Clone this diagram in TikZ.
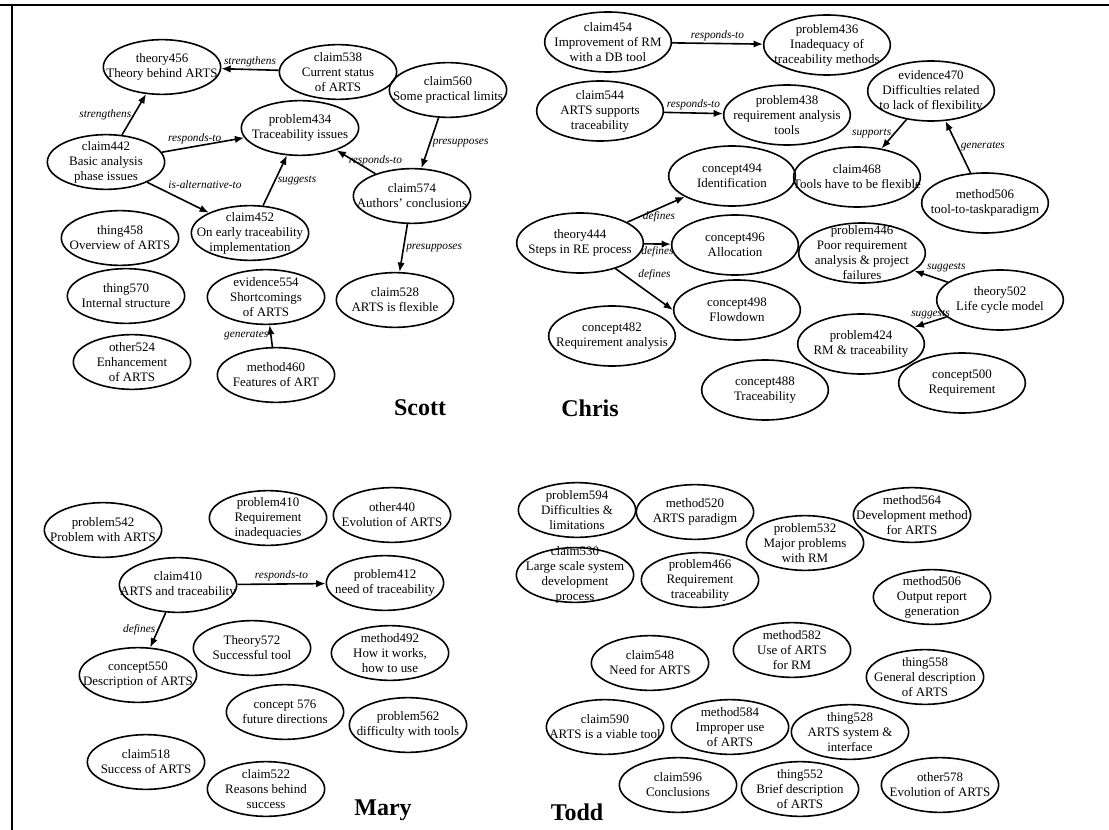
\documentclass[tikz,border=0pt]{standalone}
\usepackage{fontspec}
\setmainfont{Liberation Serif}
\usetikzlibrary{shapes.geometric,arrows.meta}

\begin{document}
\begin{tikzpicture}[x=0.75pt, y=-0.75pt,
	idea/.style={draw, ellipse, line width=1.2pt, minimum width=88pt, minimum height=41pt, inner sep=0pt},
	big idea/.style={idea, minimum width=95pt, minimum height=45pt},
	txt/.style={align=center, inner sep=0pt, font=\fontsize{9.7}{11.25}\selectfont},
	link/.style={-{Latex[length=7pt, width=5.5pt]}, line width=1.2pt},
	lbl/.style={font=\fontsize{8.5}{9}\selectfont\itshape, inner sep=1.5pt},
	who/.style={font=\fontsize{18}{20}\selectfont\bfseries, inner sep=0pt},
	frame/.style={line width=1.5pt}]
	\useasboundingbox (0,0) rectangle (1109,830);
	\draw [frame] (0,5) -- (1109,5) (12,5) -- (12,830);

	% Scott
	\node [idea, label={[txt]center:{theory456\\Theory behind ARTS}}] (t456) at (162,67) {};
	\node [idea, label={[txt]center:{claim538\\Current status\\of ARTS}}] (c538) at (338,72) {};
	\node [idea, label={[txt]center:{problem434\\Traceability issues}}] (p434) at (300,128) {};
	\node [idea, label={[txt]center:{claim560\\Some practical limits}}] (c560) at (448,90) {};
	\node [idea, label={[txt]center:{claim442\\Basic analysis\\phase issues}}] (c442) at (106,162) {};
	\node [idea, label={[txt]center:{claim574\\Authors' conclusions}}] (c574) at (412,196) {};
	\node [idea, label={[txt]center:{claim452\\On early traceability\\implementation}}] (c452) at (250,233) {};
	\node [idea, label={[txt]center:{thing458\\Overview of ARTS}}] (t458) at (120,238) {};
	\node [idea, label={[txt]center:{thing570\\Internal structure}}] (t570) at (126,296) {};
	\node [idea, label={[txt]center:{evidence554\\Shortcomings\\of ARTS}}] (e554) at (266,297) {};
	\node [idea, label={[txt]center:{claim528\\ARTS is flexible}}] (c528) at (395,300) {};
	\node [idea, label={[txt]center:{other524\\Enhancement\\of ARTS}}] (o524) at (132,362) {};
	\node [idea, label={[txt]center:{method460\\Features of ART}}] (m460) at (276,375) {};
	\node [who] (scott) at (420,408) {Scott};

	\draw [link] (c538) -- node [lbl, above] {strengthens} (t456);
	\draw [link] (c442) -- node [lbl, left] {strengthens} (t456);
	\draw [link] (c442) -- node [lbl, above, pos=.4] {responds-to} (p434);
	\draw [link] (c442) -- node [lbl, above right, pos=.3] {is-alternative-to} (c452);
	\draw [link] (c452) -- node [lbl, right] {suggests} (p434);
	\draw [link] (c574) -- node [lbl, above=4pt, pos=0] {responds-to} (p434);
	\draw [link] (c560) -- node [lbl, right] {presupposes} (c574);
	\draw [link] (c574) -- node [lbl, right] {presupposes} (c528);
	\draw [link] (m460) -- node [lbl, left] {generates} (e554);

	% Chris
	\node [big idea, label={[txt]center:{claim454\\Improvement of RM\\with a DB tool}}] (c454) at (608,42) {};
	\node [big idea, label={[txt]center:{problem436\\Inadequacy of\\traceability methods}}] (p436) at (827,45) {};
	\node [big idea, label={[txt]center:{claim544\\ARTS supports\\traceability}}] (c544) at (600,111) {};
	\node [big idea, label={[txt]center:{problem438\\requirement analysis\\tools}}] (p438) at (787,115) {};
	\node [big idea, label={[txt]center:{evidence470\\Difficulties related\\to lack of flexibility}}] (e470) at (931,91) {};
	\node [big idea, label={[txt]center:{concept494\\Identification}}] (k494) at (732,176) {};
	\node [big idea, label={[txt]center:{claim468\\Tools have to be flexible}}] (c468) at (857,177) {};
	\node [big idea, label={[txt]center:{method506\\tool-to-taskparadigm}}] (m506) at (985,203) {};
	\node [big idea, label={[txt]center:{theory444\\Steps in RE process}}] (t444) at (580,243) {};
	\node [big idea, label={[txt]center:{concept496\\Allocation}}] (k496) at (735,245) {};
	\node [big idea, label={[txt]center:{problem446\\Poor requirement\\analysis \& project\\failures}}] (p446) at (862,253) {};
	\node [big idea, label={[txt]center:{theory502\\Life cycle model}}] (t502) at (1000,300) {};
	\node [big idea, label={[txt]center:{concept498\\Flowdown}}] (k498) at (737,310) {};
	\node [big idea, label={[txt]center:{problem424\\RM \& traceability}}] (p424) at (861,344) {};
	\node [big idea, label={[txt]center:{concept482\\Requirement analysis}}] (k482) at (612,336) {};
	\node [big idea, label={[txt]center:{concept488\\Traceability}}] (k488) at (765,390) {};
	\node [big idea, label={[txt]center:{concept500\\Requirement}}] (k500) at (962,383) {};
	\node [who] (chris) at (590,408) {Chris};

	\draw [link] (c454) -- node [lbl, above] {responds-to} (p436);
	\draw [link] (c544) -- node [lbl, above] {responds-to} (p438);
	\draw [link] (e470) -- node [lbl, left] {supports} (c468);
	\draw [link] (m506) -- node [lbl, right] {generates} (e470);
	\draw [link] (t444) -- node [lbl, below, pos=.55] {defines} (k494);
	\draw [link] (t444) -- node [lbl, below] {defines} (k496);
	\draw [link] (t444) -- node [lbl, above right, pos=.35] {defines} (k498.west);
	\draw [link] (t502) -- node [lbl, above right, pos=.7] {suggests} (p446);
	\draw [link] (t502) -- node [lbl, above] {suggests} (p424);

	% Mary
	\node [idea, label={[txt]center:{problem542\\Problem with ARTS}}] (p542) at (103,530) {};
	\node [idea, label={[txt]center:{problem410\\Requirement\\inadequacies}}] (p410) at (268,518) {};
	\node [idea, label={[txt]center:{other440\\Evolution of ARTS}}] (o440) at (392,515) {};
	\node [idea, label={[txt]center:{claim410\\ARTS and traceability}}] (c410) at (178,585) {};
	\node [idea, label={[txt]center:{problem412\\need of traceability}}] (p412) at (385,583) {};
	\node [idea, label={[txt]center:{Theory572\\Successful tool}}] (t572) at (252,648) {};
	\node [idea, label={[txt]center:{method492\\How it works,\\how to use}}] (m492) at (390,653) {};
	\node [idea, label={[txt]center:{concept550\\Description of ARTS}}] (k550) at (138,675) {};
	\node [idea, label={[txt]center:{concept 576\\future directions}}] (k576) at (285,712) {};
	\node [idea, label={[txt]center:{problem562\\difficulty with tools}}] (p562) at (408,725) {};
	\node [idea, label={[txt]center:{claim518\\Success of ARTS}}] (c518) at (146,762) {};
	\node [idea, label={[txt]center:{claim522\\Reasons behind\\success}}] (c522) at (266,789) {};
	\node [who] (mary) at (383,810) {Mary};

	\draw [link] (c410) -- node [lbl, above] {responds-to} (p412);
	\draw [link] (c410) -- node [lbl, left] {defines} (k550);

	% Todd
	\node [idea, label={[txt]center:{problem594\\Difficulties \&\\limitations}}] (p594) at (577,510) {};
	\node [idea, label={[txt]center:{method520\\ARTS paradigm}}] (m520) at (695,512) {};
	\node [idea, label={[txt]center:{problem532\\Major problems\\with RM}}] (p532) at (805,543) {};
	\node [idea, label={[txt]center:{method564\\Development method\\for ARTS}}] (m564) at (912,515) {};
	\node [idea, label={[txt]center:{claim530\\Large scale system\\development\\process}}] (c530) at (575,575) {};
	\node [idea, label={[txt]center:{problem466\\Requirement\\traceability}}] (p466) at (700,580) {};
	\node [idea, label={[txt]center:{method506\\Output report\\generation}}] (m506b) at (932,597) {};
	\node [idea, label={[txt]center:{claim548\\Need for ARTS}}] (c548) at (650,663) {};
	\node [idea, label={[txt]center:{method582\\Use of ARTS\\for RM}}] (m582) at (792,650) {};
	\node [idea, label={[txt]center:{thing558\\General description\\of ARTS}}] (t558) at (925,677) {};
	\node [idea, label={[txt]center:{claim590\\ARTS is a viable tool}}] (c590) at (605,727) {};
	\node [idea, label={[txt]center:{method584\\Improper use\\of ARTS}}] (m584) at (730,727) {};
	\node [idea, label={[txt]center:{thing528\\ARTS system \&\\interface}}] (t528) at (850,732) {};
	\node [idea, label={[txt]center:{claim596\\Conclusions}}] (c596) at (678,785) {};
	\node [idea, label={[txt]center:{thing552\\Brief description\\of ARTS}}] (t552) at (800,789) {};
	\node [idea, label={[txt]center:{other578\\Evolution of ARTS}}] (o578) at (940,785) {};
	\node [who] (todd) at (577,812) {Todd};
\end{tikzpicture}
\end{document}
